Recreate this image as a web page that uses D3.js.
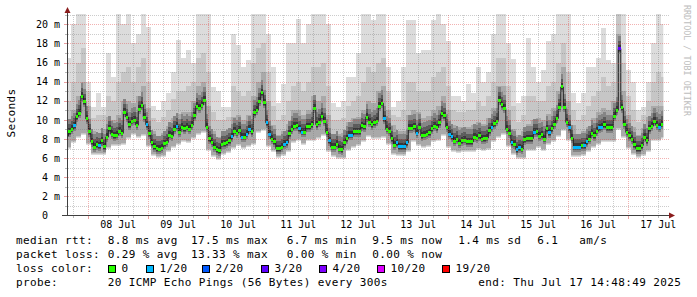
<!DOCTYPE html>
<html>
<head>
<meta charset="utf-8">
<script src="https://cdnjs.cloudflare.com/ajax/libs/d3/7.8.5/d3.min.js"></script>
<style>
  body { margin: 0; background: #fff; }
  svg { display: block; font-family: "DejaVu Sans Mono", monospace; }
</style>
</head>
<body>
<div id="chart"></div>
<script>
// hourly median rtt (ms), first sample 07 Jul 15:00
var median = [
  8.3, 8.75, 9.0, 9.4, 10.35, 10.7, 12.5, 11.9, 10.1, 8.75,
  7.7, 7.15, 7.4, 7.3, 7.8, 7.2, 8.2, 9.05, 8.5, 8.35,
  8.4, 8.8, 8.6, 10.8, 10.3, 9.5, 9.85, 9.95, 9.45, 11.1,
  11.55, 10.3, 9.5, 8.55, 7.6, 7.2, 7.0, 6.95, 7.05, 7.5,
  7.65, 8.4, 8.3, 9.0, 9.35, 8.7, 9.25, 9.1, 9.25, 9.0,
  9.45, 10.45, 11.45, 11.2, 11.55, 12.05, 9.25, 8.05, 7.65, 7.15,
  6.9, 6.75, 7.45, 7.5, 7.6, 7.8, 8.25, 8.8, 8.6, 8.9,
  8.2, 8.2, 8.5, 9.0, 8.75, 10.75, 11.0, 11.95, 12.85, 11.8,
  9.7, 8.5, 8.0, 7.7, 7.0, 7.0, 7.15, 7.45, 7.6, 8.55,
  9.0, 9.35, 9.4, 9.1, 8.7, 8.7, 9.3, 9.3, 9.5, 11.2,
  9.5, 9.75, 10.4, 9.85, 8.7, 7.8, 7.15, 7.15, 7.45, 6.95,
  6.9, 7.6, 8.05, 8.4, 8.4, 8.75, 8.75, 8.75, 9.4, 9.3,
  10.3, 9.75, 9.5, 9.7, 9.85, 11.45, 11.75, 10.1, 9.0, 8.8,
  8.05, 7.35, 7.6, 7.2, 7.2, 7.2, 7.6, 9.15, 9.15, 9.3,
  8.6, 9.25, 8.35, 8.4, 8.5, 8.65, 9.1, 9.35, 9.2, 9.7,
  10.65, 10.45, 9.25, 8.5, 8.25, 7.75, 8.0, 7.55, 7.8, 7.85,
  7.7, 7.7, 7.7, 8.2, 8.1, 8.35, 8.0, 8.05, 8.1, 8.85,
  9.25, 9.6, 9.85, 12.05, 11.6, 11.2, 9.0, 8.6, 7.6, 7.45,
  6.9, 7.1, 6.95, 7.9, 8.05, 8.05, 8.05, 8.7, 8.75, 8.3,
  8.45, 8.0, 9.05, 8.65, 9.1, 9.55, 10.15, 11.3, 13.45, 11.3,
  9.75, 9.2, 8.1, 7.15, 7.15, 7.15, 7.3, 7.3, 7.7, 8.0,
  8.6, 8.35, 8.8, 9.2, 9.25, 9.5, 9.2, 9.2, 9.2, 10.4,
  11.0, 17.45, 11.25, 9.55, 8.7, 8.35, 8.0, 7.4, 7.0, 7.0,
  7.3, 8.2, 7.8, 9.1, 9.35, 9.85, 9.45, 9.25, 9.55
];

// hours with lost pings (index into median)
var loss1Hours = [3, 13, 32, 44, 66, 70, 72, 73, 80, 81, 87, 88, 93, 94, 105, 113, 114,
  127, 132, 133, 134, 135, 136, 140, 153, 154, 170, 178, 180, 181, 187, 193,
  201, 203, 204, 205, 207, 208, 213, 214, 237];
var loss3Hours = [221];

// smoke, one value per 2 hour block
var smokeLo = [
  7.2, 7.8, 8.3, 8.6, 7.6, 6.5, 6.5, 6.5, 7.2, 7.5,
  7.5, 7.6, 8.2, 8.6, 8.3, 8.5, 7.4, 6.4, 6.2, 6.3,
  6.8, 7.3, 7.6, 7.9, 7.8, 8.2, 8.6, 8.8, 7.0, 6.3,
  6.0, 6.5, 6.7, 7.2, 7.5, 7.2, 7.4, 7.6, 8.8, 9.0,
  7.4, 6.8, 6.2, 6.4, 6.8, 7.8, 8.0, 7.6, 8.0, 8.0,
  8.2, 8.5, 6.8, 6.3, 6.1, 6.1, 7.0, 7.3, 7.5, 7.9,
  8.4, 8.2, 8.2, 8.3, 7.6, 6.5, 6.4, 6.4, 6.8, 7.9,
  7.5, 7.3, 7.4, 7.9, 8.0, 8.5, 7.3, 6.8, 6.7, 6.8,
  6.8, 6.8, 7.1, 7.0, 7.1, 7.9, 8.3, 8.6, 7.4, 6.5,
  6.1, 6.1, 7.0, 7.0, 7.3, 7.0, 7.6, 7.9, 8.4, 9.0,
  8.0, 6.3, 6.3, 6.4, 6.8, 7.3, 7.6, 7.9, 7.9, 7.9,
  9.2, 8.3, 7.2, 6.5, 6.2, 6.4, 6.8, 8.0, 8.0, 8.2
];
var smokeP75 = [
  10.0, 11.0, 12.5, 14.0, 11.5, 8.8, 8.6, 9.0, 10.3, 10.0,
  10.5, 12.0, 12.0, 11.8, 12.5, 13.5, 11.2, 8.8, 8.2, 8.6,
  9.4, 10.2, 10.6, 10.8, 10.8, 12.0, 13.5, 14.0, 11.5, 8.8,
  8.2, 8.6, 9.0, 10.3, 10.5, 10.0, 10.5, 12.5, 14.0, 15.0,
  12.0, 9.5, 8.4, 8.8, 9.6, 11.0, 11.0, 10.5, 11.0, 12.5,
  12.0, 12.5, 10.5, 8.5, 8.5, 8.6, 9.8, 10.2, 10.3, 11.0,
  12.0, 11.8, 13.0, 13.5, 11.0, 9.5, 8.8, 8.8, 10.5, 11.0,
  10.8, 10.2, 10.4, 11.0, 11.5, 12.5, 11.0, 9.5, 9.3, 9.3,
  9.3, 9.5, 9.8, 9.6, 10.2, 11.2, 13.5, 13.5, 11.0, 9.0,
  8.4, 8.8, 9.6, 10.0, 10.2, 10.0, 10.6, 11.2, 13.0, 15.5,
  12.0, 9.5, 8.5, 8.8, 9.3, 10.2, 10.8, 11.2, 11.0, 12.0,
  19.0, 13.0, 10.5, 9.3, 8.4, 9.2, 10.3, 11.5, 11.5, 11.5
];
var smokeP90 = [
  12.0, 14.0, 16.0, 17.5, 13.0, 10.2, 10.5, 10.5, 12.5, 12.0,
  14.0, 15.0, 15.5, 14.0, 15.5, 16.5, 14.0, 10.2, 9.8, 10.3,
  11.0, 12.2, 13.0, 13.0, 13.5, 14.0, 16.5, 17.0, 15.0, 10.8,
  10.0, 10.0, 10.3, 13.5, 13.0, 12.5, 13.0, 16.0, 17.5, 18.0,
  15.0, 11.5, 10.0, 10.5, 12.0, 13.5, 14.0, 13.0, 14.0, 15.5,
  15.5, 16.0, 13.5, 10.0, 10.0, 10.2, 11.5, 12.0, 12.5, 14.0,
  15.5, 15.0, 16.0, 16.5, 13.0, 10.5, 10.3, 11.0, 14.0, 14.0,
  13.0, 13.0, 13.0, 14.5, 15.0, 15.5, 13.5, 11.0, 10.8, 10.8,
  11.0, 11.0, 12.0, 11.5, 12.5, 14.0, 16.5, 16.5, 13.5, 11.5,
  9.8, 10.5, 12.5, 12.5, 12.0, 12.0, 13.5, 14.0, 16.0, 18.0,
  15.0, 11.0, 10.0, 10.5, 11.5, 12.5, 13.0, 14.5, 13.5, 14.0,
  21.5, 16.0, 12.5, 11.0, 9.8, 10.5, 12.0, 14.0, 15.0, 14.5
];
var smokeTop = [
  16.5, 20.0, 21.5, 21.5, 14.0, 11.3, 12.8, 11.3, 17.0, 14.5,
  21.5, 20.0, 21.5, 18.0, 19.0, 21.5, 19.7, 11.5, 11.0, 12.0,
  12.8, 15.0, 18.4, 16.5, 17.3, 16.0, 21.5, 21.5, 21.5, 13.4,
  13.0, 11.3, 11.3, 19.0, 17.8, 15.5, 16.3, 21.5, 21.5, 21.5,
  19.0, 15.5, 11.8, 13.8, 18.0, 18.0, 20.6, 18.0, 20.0, 21.5,
  21.5, 21.5, 20.0, 11.8, 11.4, 12.0, 14.5, 14.5, 17.0, 21.5,
  21.5, 20.5, 21.5, 21.5, 15.5, 11.4, 12.0, 15.5, 20.5, 20.5,
  17.0, 17.3, 17.3, 20.5, 21.5, 20.0, 18.3, 12.5, 12.5, 12.0,
  13.8, 12.8, 15.5, 14.0, 15.0, 19.0, 21.5, 21.5, 18.0, 16.4,
  11.8, 12.5, 18.6, 15.5, 14.0, 15.2, 18.3, 19.0, 21.5, 21.5,
  21.5, 12.8, 11.8, 12.8, 15.5, 15.5, 16.5, 19.6, 16.3, 16.0,
  21.5, 21.5, 15.2, 14.0, 11.0, 11.4, 14.0, 18.0, 21.5, 20.0
];

var dayLabels = ["08 Jul", "09 Jul", "10 Jul", "11 Jul", "12 Jul", "13 Jul", "14 Jul", "15 Jul", "16 Jul", "17 Jul"];
var yTickValues = [0, 2, 4, 6, 8, 10, 12, 14, 16, 18, 20];
var yTickLabels = ["0", "2 m", "4 m", "6 m", "8 m", "10 m", "12 m", "14 m", "16 m", "18 m", "20 m"];

var medianStats = ["8.8 ms avg", "17.5 ms max", "6.7 ms min", "9.5 ms now", "1.4 ms sd", "6.1", "am/s"];
var lossStats = ["0.29 % avg", "13.33 % max", "0.00 % min", "0.00 % now"];
var lossLabels = ["0", "1/20", "2/20", "3/20", "4/20", "10/20", "19/20"];
var lossColors = ["#26ff00", "#00b8ff", "#0059ff", "#5e00ff", "#7e00ff", "#dd00ff", "#ff0000"];
var probeText = "20 ICMP Echo Pings (56 Bytes) every 300s";
var endText = "end: Thu Jul 17 14:48:49 2025";

var W = 697, H = 297;
var hour = 3600 * 1000;
var t0 = new Date(2025, 6, 7, 15, 0);

var x = d3.scaleTime()
    .domain([new Date(2025, 6, 7, 15, 28, 48), new Date(2025, 6, 17, 16, 16, 48)])
    .range([67, 669]);

var y = d3.scaleLinear()
    .domain([0, 21.1])
    .range([215.5, 13.8]);

var svg = d3.select("#chart").append("svg")
    .attr("width", W)
    .attr("height", H);

var dataEnd = new Date(+t0 + median.length * hour);

svg.append("clipPath")
    .attr("id", "plotclip")
  .append("rect")
    .attr("x", 68)
    .attr("y", 14)
    .attr("width", x(dataEnd) - 68)
    .attr("height", 201);

var plot = svg.append("g").attr("clip-path", "url(#plotclip)");

var blocks = smokeLo.map(function(lo, b) {
  return {
    a: new Date(+t0 + 2 * b * hour),
    b: new Date(+t0 + (2 * b + 2) * hour),
    lo: lo, p75: smokeP75[b], p90: smokeP90[b], top: smokeTop[b]
  };
});

function band(key, color, pad) {
  plot.append("g")
      .attr("shape-rendering", "crispEdges")
    .selectAll("rect")
    .data(blocks)
    .join("rect")
      .attr("x", function(d) { return x(d.a); })
      .attr("width", function(d) { return x(d.b) - x(d.a); })
      .attr("y", function(d) { return y(d[key]); })
      .attr("height", function(d) { return Math.max(0, y(d.lo) + pad - y(d[key])); })
      .attr("fill", color);
}

band("top", "#dcdcdc", 2);
band("p90", "#c6c6c6", 1);
band("p75", "#a9a9a9", 0);

var hours = median.map(function(v, i) {
  var loss = 0;
  if (loss1Hours.indexOf(i) >= 0) loss = 1;
  if (loss3Hours.indexOf(i) >= 0) loss = 3;
  return {a: new Date(+t0 + i * hour), b: new Date(+t0 + (i + 1) * hour), v: v, loss: loss};
});

// dark core of the smoke around the median
function core(color, above, below) {
  plot.append("g")
      .attr("shape-rendering", "crispEdges")
    .selectAll("rect")
    .data(hours)
    .join("rect")
      .attr("x", function(d) { return x(d.a); })
      .attr("width", function(d) { return x(d.b) - x(d.a); })
      .attr("y", function(d) { return y(d.v) - above; })
      .attr("height", above + below)
      .attr("fill", color);
}
core("#858585", 13, 5);
core("#5c5c5c", 8, 3);
core("#383838", 4, 2);

// grid
var grid = svg.append("g")
    .attr("fill", "none")
    .attr("stroke-dasharray", "1,1")
    .attr("shape-rendering", "crispEdges");

var redGrid = "rgba(225,70,70,0.42)", grayGrid = "rgba(120,120,120,0.38)";

d3.range(1, 22).forEach(function(v) {
  var yy = Math.round(y(v)) + 0.5;
  grid.append("line")
      .attr("x1", 68).attr("x2", 669)
      .attr("y1", yy).attr("y2", yy)
      .attr("stroke", v % 2 === 0 ? redGrid : grayGrid);
});

var sixHours = d3.timeHour.every(6).range(x.domain()[0], x.domain()[1]);
sixHours.forEach(function(t) {
  var xx = Math.round(x(t)) + 0.5;
  grid.append("line")
      .attr("x1", xx).attr("x2", xx)
      .attr("y1", 214).attr("y2", 14)
      .attr("stroke", t.getHours() === 0 ? redGrid : grayGrid);
});

// median line and loss-coloured steps
var medLine = d3.line()
    .x(function(d) { return x(d.a); })
    .y(function(d) { return y(d.v); })
    .curve(d3.curveStepAfter);

var medPts = hours.concat([{a: dataEnd, v: median[median.length - 1]}]);

plot.append("path")
    .datum(medPts)
    .attr("d", medLine)
    .attr("fill", "none")
    .attr("stroke", "#202020")
    .attr("stroke-width", 1);

plot.append("g")
    .attr("shape-rendering", "crispEdges")
  .selectAll("rect")
  .data(hours)
  .join("rect")
    .attr("x", function(d) { return x(d.a); })
    .attr("width", function(d) { return x(d.b) - x(d.a); })
    .attr("y", function(d) { return y(d.v) - 1.5; })
    .attr("height", 3)
    .attr("fill", function(d) { return lossColors[d.loss]; });

// axes
var axis = svg.append("g").attr("shape-rendering", "crispEdges");

d3.range(1, 22).forEach(function(v) {
  var yy = Math.round(y(v)) + 0.5;
  axis.append("line")
      .attr("x1", v % 2 === 0 ? 64 : 65).attr("x2", 67)
      .attr("y1", yy).attr("y2", yy)
      .attr("stroke", v % 2 === 0 ? "#e8a0a0" : "#b8b8b8");
});
sixHours.forEach(function(t) {
  var xx = Math.round(x(t)) + 0.5;
  axis.append("line")
      .attr("x1", xx).attr("x2", xx)
      .attr("y1", 216).attr("y2", t.getHours() === 0 ? 219 : 218)
      .attr("stroke", t.getHours() === 0 ? "#e8a0a0" : "#b8b8b8");
});

axis.append("line")
    .attr("x1", 67.5).attr("x2", 67.5)
    .attr("y1", 216).attr("y2", 12)
    .attr("stroke", "#404040");
axis.append("line")
    .attr("x1", 62).attr("x2", 670)
    .attr("y1", 215.5).attr("y2", 215.5)
    .attr("stroke", "#404040");
svg.append("path")
    .attr("d", "M64.5,13L70.5,13L67.5,7Z")
    .attr("fill", "#8a1c1c");
svg.append("path")
    .attr("d", "M669,212.5L669,218.5L675,215.5Z")
    .attr("fill", "#8a1c1c");

var parseDay = d3.timeParse("%d %b %Y");

svg.append("g")
    .attr("font-size", "10px")
    .attr("text-anchor", "middle")
  .selectAll("text")
  .data(dayLabels)
  .join("text")
    .attr("x", function(d) { return x(new Date(+parseDay(d + " 2025") + 12 * hour)); })
    .attr("y", 228)
    .text(function(d) { return d; });

svg.append("g")
    .attr("font-size", "10px")
    .attr("text-anchor", "end")
  .selectAll("text")
  .data(yTickValues)
  .join("text")
    .attr("x", function(d, i) { return yTickLabels[i].length > 1 ? 60 : 48; })
    .attr("y", function(d) { return y(d); })
    .attr("dy", "0.36em")
    .text(function(d, i) { return yTickLabels[i]; });

svg.append("text")
    .attr("transform", "translate(15,113) rotate(-90)")
    .attr("text-anchor", "middle")
    .attr("font-size", "11px")
    .attr("letter-spacing", "0.4px")
    .text("Seconds");

svg.append("text")
    .attr("transform", "translate(684,5) rotate(90)")
    .attr("font-size", "8.4px")
    .attr("fill", "#bdbdbd")
    .text("RRDTOOL / TOBI OETIKER");

// legend
var legend = svg.append("g")
    .attr("font-size", "11px")
    .attr("letter-spacing", "0.38px")
    .attr("fill", "#000");

var statX = [107.7, 191, 286.7, 372.3, 458.3, 537.3, 579.3];
var rowY = [244, 258, 272, 286];

legend.append("text").attr("x", 16).attr("y", rowY[0]).text("median rtt:");
medianStats.forEach(function(s, i) {
  legend.append("text").attr("x", statX[i]).attr("y", rowY[0]).text(s);
});

legend.append("text").attr("x", 16).attr("y", rowY[1]).text("packet loss:");
lossStats.forEach(function(s, i) {
  legend.append("text").attr("x", statX[i]).attr("y", rowY[1]).text(s);
});

legend.append("text").attr("x", 16).attr("y", rowY[2]).text("loss color:");
var boxX = [108.5, 146.5, 202.5, 261.5, 319.5, 377.5, 442.5];
lossLabels.forEach(function(s, i) {
  legend.append("rect")
      .attr("x", boxX[i]).attr("y", 265.5)
      .attr("width", 7).attr("height", 7)
      .attr("fill", lossColors[i])
      .attr("stroke", "#000");
  legend.append("text").attr("x", boxX[i] + 13).attr("y", rowY[2]).text(s);
});

legend.append("text").attr("x", 16).attr("y", rowY[3]).text("probe:");
legend.append("text").attr("x", 107.7).attr("y", rowY[3]).text(probeText);
legend.append("text").attr("x", 478.3).attr("y", rowY[3]).text(endText);
</script>
</body>
</html>
